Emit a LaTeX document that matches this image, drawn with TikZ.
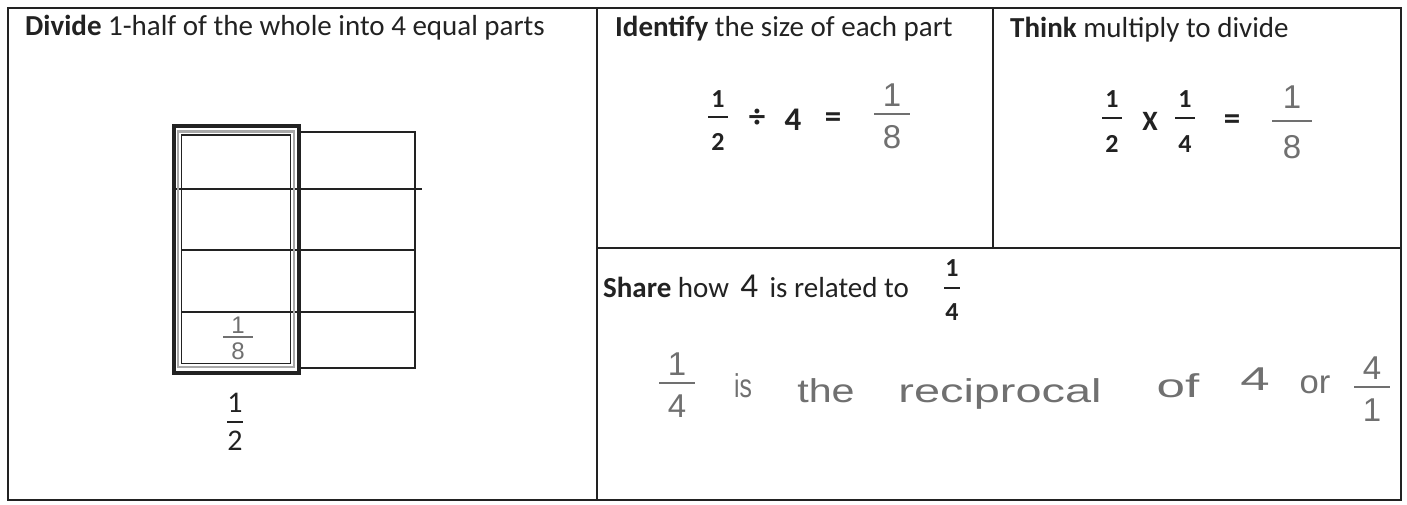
\documentclass[tikz,border=0pt]{standalone}
\usepackage{graphicx}
\usepackage{fontspec}
\setmainfont{Carlito}
\newfontfamily\handfont{Liberation Sans}
\definecolor{ink}{HTML}{222222}
\definecolor{pencil}{HTML}{707070}
\definecolor{halo}{HTML}{A8A8A8}
\newcommand\fsz[1]{\fontsize{#1}{#1}\selectfont}
\newcommand\hw[2]{\scalebox{#1}[1]{#2}}
\tikzset{
  frame/.style={draw=ink, line width=2.6pt},
  gridline/.style={draw=ink, line width=2pt},
  title/.style={inner sep=0pt, text=ink, font=\fsz{29}},
  eqbold/.style={inner sep=0pt, text=ink, font=\fsz{26}\bfseries},
  eqbig/.style={inner sep=0pt, text=ink, font=\fsz{33}\bfseries},
  gridnum/.style={inner sep=0pt, text=ink, font=\fsz{30}},
  hand/.style={inner sep=0pt, text=pencil, font=\fsz{33}\handfont},
  handsmall/.style={inner sep=0pt, text=pencil, font=\fsz{24}\handfont},
  prbar/.style={draw=ink, line width=2.8pt},
  hbar/.style={draw=pencil, line width=2.2pt},
  pics/frc/.style n args={7}{code={
    \node[#6] (-n) at (0,-#3) {#1};
    \node[#6] (-d) at (0,#4) {#2};
    \draw[#7] (-#5,0) -- (#5,0);
  }}
}
\begin{document}
\begin{tikzpicture}[x=1pt,y=-1pt]
\useasboundingbox (0,0) rectangle (1407,504);
\fill[white] (0,0) rectangle (1407,504);

% panels
\draw[frame] (8,8) rectangle (1401,500);
\draw[frame] (597,8) -- (597,500);
\draw[frame] (597,248) -- (1401,248);
\draw[frame] (993,8) -- (993,248);

% titles
\node[title, anchor=base west] (tdivide) at (25,35) {\textbf{Divide} 1-half of the whole into 4 equal parts};
\node[title, anchor=base west] (tident) at (615,36) {\textbf{Identify} the size of each part};
\node[title, anchor=base west] (tthink) at (1010,37) {\textbf{Think} multiply to divide};
\node[title, anchor=base west] (tshare) at (603,297) {\textbf{Share} how \,{\fsz{35}4}\, is related to};
\pic (sharefr) at (952,288) {frc={1}{4}{20}{24}{8}{eqbold}{prbar}};

% grid: right half
\draw[gridline] (300,132) rectangle (415,368);
\draw[gridline] (172,189) -- (422,189);
\draw[gridline] (181,250) -- (415,250);
\draw[gridline] (181,312) -- (415,312);
% grid: highlighted left half
\draw[draw=ink, line width=4pt] (174,126) rectangle (298.5,372.5);
\draw[draw=ink, line width=2pt] (172,374) -- (300,374);
\draw[draw=halo, line width=2.6pt] (178,131.5) rectangle (294,367);
\draw[draw=ink, line width=1.2pt] (181.5,135) rectangle (290.5,363.5);
\pic (gridfr) at (235,422) {frc={1}{2}{19}{19}{8}{gridnum}{prbar}};
\pic (gridhand) at (238,337) {frc={1}{8}{12}{14}{15}{handsmall}{hbar}};

% identify equation
\pic (idfr) at (718,117) {frc={1}{2}{18}{25}{10}{eqbold}{prbar}};
\node[eqbig] (iddiv) at (757,118) {÷};
\node[eqbig] (idfour) at (793,120) {4};
\node[eqbig] (ideq) at (833,120) {=};
\pic (idans) at (892,114) {frc={1}{8}{19}{23}{18}{hand}{hbar}};

% think equation
\pic (thfa) at (1112,118) {frc={1}{2}{19}{26}{10}{eqbold}{prbar}};
\node[eqbold, font=\fsz{28}\bfseries] (thx) at (1150,121) {X};
\pic (thfb) at (1185,118) {frc={1}{4}{19}{26}{10}{eqbold}{prbar}};
\node[eqbig] (theq) at (1232,122) {=};
\pic (thans) at (1292,121) {frc={1}{8}{24}{26}{20}{hand}{hbar}};

% handwritten answer
\pic (hwa) at (677,383) {frc={1}{4}{19}{23}{18}{hand}{hbar}};
\node[hand, anchor=base] (wis) at (743,397) {\hw{0.75}{is}};
\node[hand, anchor=base] (wthe) at (826,402) {\hw{1.25}{the}};
\node[hand, anchor=base] (wrec) at (1000,402) {\hw{1.42}{reciprocal}};
\node[hand, anchor=base] (wof) at (1178,397) {\hw{1.55}{of}};
\node[hand, anchor=base] (wfour) at (1255,390) {\hw{1.6}{4}};
\node[hand, anchor=base] (wor) at (1315,393) {\hw{1.05}{or}};
\pic (hwb) at (1372,387) {frc={4}{1}{19}{23}{18}{hand}{hbar}};
\end{tikzpicture}
\end{document}
